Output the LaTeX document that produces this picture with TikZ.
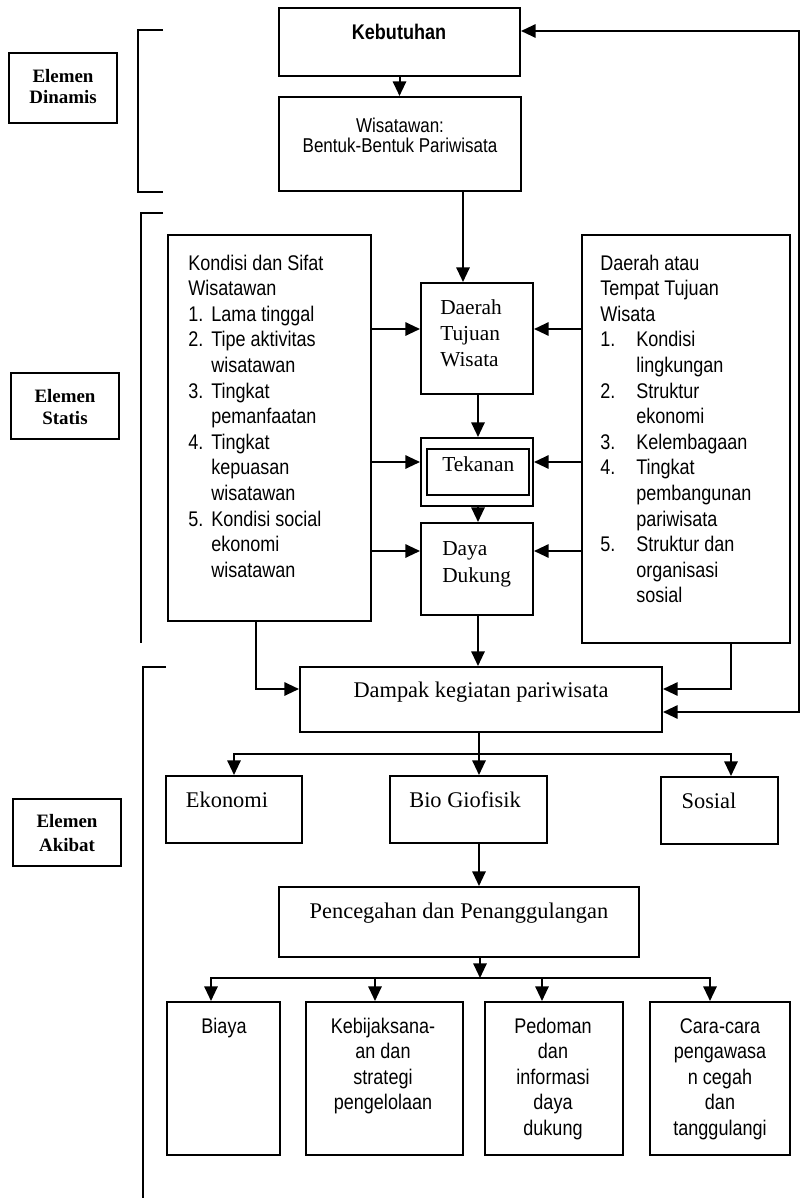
\documentclass[tikz,border=0pt]{standalone}
\usepackage{fontspec}
\setmainfont{Liberation Serif}
\newfontfamily\narrowsans[FakeStretch=0.85]{Liberation Sans}
\usetikzlibrary{arrows.meta}
% fixed-width slots for list numbers in the two side panels
\newcommand\nbl[1]{\makebox[17.25pt][l]{#1}}
\newcommand\nbr[1]{\makebox[27pt][l]{#1}}
% \mkbox{name}{x1}{y1}{x2}{y2}: an empty framed box between two corners (px)
\newcommand\mkbox[5]{\node[panel, minimum width={(#4-#2)*0.75pt}, minimum height={(#5-#3)*0.75pt}] (#1) at ({(#2+#4)/2},{(#3+#5)/2}) {};}

\begin{document}
\begin{tikzpicture}[x=0.75pt,y=-0.75pt,
  panel/.style={draw, line width=1.5pt, inner sep=0pt},
  conn/.style={line width=1.5pt},
  arr/.style={conn, -{Triangle[length=11pt,width=10pt]}},
  sanstext/.style={font=\narrowsans\fontsize{15.9pt}{19.2pt}\selectfont, inner sep=0pt},
  headtext/.style={font=\narrowsans\bfseries\fontsize{15.9pt}{18pt}\selectfont, inner sep=0pt},
  wstext/.style={font=\narrowsans\fontsize{15pt}{15pt}\selectfont, inner sep=0pt},
  seriftext/.style={font=\fontsize{16.8pt}{19pt}\selectfont, inner sep=0pt},
  smallserif/.style={font=\fontsize{16pt}{19pt}\selectfont, inner sep=0pt},
  elemtext/.style={font=\bfseries\fontsize{14.2pt}{17pt}\selectfont, inner sep=0pt},
]
\fill[white] (0,0) rectangle (802,1198);
\useasboundingbox (0,0) rectangle (802,1198);

% ---------- element labels and brackets ----------
\mkbox{ed}{9}{53}{117}{123}
\node[elemtext, anchor=base] (ed1) at (63,83) {Elemen};
\node[elemtext, anchor=base] (ed2) at (63,104) {Dinamis};
\mkbox{es}{11}{373}{119}{439}
\node[elemtext, anchor=base] (es1) at (65,402) {Elemen};
\node[elemtext, anchor=base] (es2) at (65,424) {Statis};
\mkbox{ea}{13}{799}{121}{866}
\node[elemtext, anchor=base] (ea1) at (67,827) {Elemen};
\node[elemtext, anchor=base] (ea2) at (67,851) {Akibat};

\draw[conn] (163,30) -- (138,30) -- (138,192) -- (163,192);
\draw[conn] (163,213) -- (141,213) -- (141,643);
\draw[conn] (166,667) -- (143,667) -- (143,1198);

% ---------- dynamic element ----------
\mkbox{kb}{279}{8}{520}{76}
\node[headtext, anchor=base] (kbt) at (399,40) {Kebutuhan};
\mkbox{ws}{279}{97}{521}{191}
\node[wstext, anchor=base] (ws1) at (400,133) {Wisatawan:};
\node[wstext, anchor=base] (ws2) at (400,153) {Bentuk-Bentuk Pariwisata};

% ---------- static element ----------
\mkbox{lb}{168}{235}{371}{621}
\foreach \lab [count=\i from 0] in {
  {Kondisi dan Sifat},
  {Wisatawan},
  {\nbl{1.}Lama tinggal},
  {\nbl{2.}Tipe aktivitas},
  {\nbl{}wisatawan},
  {\nbl{3.}Tingkat},
  {\nbl{}pemanfaatan},
  {\nbl{4.}Tingkat},
  {\nbl{}kepuasan},
  {\nbl{}wisatawan},
  {\nbl{5.}Kondisi social},
  {\nbl{}ekonomi},
  {\nbl{}wisatawan}}
  \node[sanstext, anchor=base west] (lt\i) at (188,270+25.6*\i) {\lab};

\mkbox{rb}{582}{235}{790}{643}
\foreach \lab [count=\i from 0] in {
  {Daerah atau},
  {Tempat Tujuan},
  {Wisata},
  {\nbr{1.}Kondisi},
  {\nbr{}lingkungan},
  {\nbr{2.}Struktur},
  {\nbr{}ekonomi},
  {\nbr{3.}Kelembagaan},
  {\nbr{4.}Tingkat},
  {\nbr{}pembangunan},
  {\nbr{}pariwisata},
  {\nbr{5.}Struktur dan},
  {\nbr{}organisasi},
  {\nbr{}sosial}}
  \node[sanstext, anchor=base west] (rt\i) at (600,270+25.6*\i) {\lab};

\mkbox{dtw}{421}{283}{533}{394}
\node[smallserif, anchor=base west] (dtw1) at (440,314) {Daerah};
\node[smallserif, anchor=base west] (dtw2) at (440,340) {Tujuan};
\node[smallserif, anchor=base west] (dtw3) at (440,366) {Wisata};

\mkbox{tk}{421}{438}{533}{506}
\mkbox{tki}{427}{449}{529}{495}
\node[smallserif, anchor=base west] (tkt) at (442,471) {Tekanan};

\mkbox{dd}{421}{523}{533}{615}
\node[smallserif, anchor=base west] (dd1) at (442,555) {Daya};
\node[smallserif, anchor=base west] (dd2) at (442,582) {Dukung};

% ---------- consequence element ----------
\mkbox{dk}{300}{667}{662}{732}
\node[seriftext, anchor=base] (dkt) at (481,697) {Dampak kegiatan pariwisata};
\mkbox{eko}{166}{776}{302}{843}
\node[seriftext, anchor=base] (ekot) at (227,807) {Ekonomi};
\mkbox{bio}{390}{776}{547}{843}
\node[seriftext, anchor=base] (biot) at (465,807) {Bio Giofisik};
\mkbox{sos}{661}{777}{778}{844}
\node[seriftext, anchor=base] (sost) at (709,808) {Sosial};
\mkbox{pp}{279}{887}{639}{957}
\node[seriftext, anchor=base] (ppt) at (459,918) {Pencegahan dan Penanggulangan};

\mkbox{by}{167}{1002}{280}{1155}
\node[sanstext, anchor=base] (byt) at (224,1033) {Biaya};
\mkbox{kj}{306}{1002}{463}{1155}
\foreach \lab [count=\i from 0] in {Kebijaksana-, an dan, strategi, pengelolaan}
  \node[sanstext, anchor=base] (kjt\i) at (383,1033+25.5*\i) {\lab};
\mkbox{pd}{485}{1002}{623}{1155}
\foreach \lab [count=\i from 0] in {Pedoman, dan, informasi, daya, dukung}
  \node[sanstext, anchor=base] (pdt\i) at (553,1033+25.5*\i) {\lab};
\mkbox{cc}{650}{1002}{790}{1155}
\foreach \lab [count=\i from 0] in {Cara-cara, pengawasa, n cegah, dan, tanggulangi}
  \node[sanstext, anchor=base] (cct\i) at (720,1033+25.5*\i) {\lab};

% ---------- connectors ----------
\coordinate (dtin) at (463,0);
\coordinate (spine) at (478,0);
\coordinate (rowA) at (0,329);
\coordinate (rowB) at (0,462);
\coordinate (rowC) at (0,551);
\coordinate (lfoot) at (256,689);
\coordinate (rfoot) at (731,689);
\coordinate (fbtop) at (799,31);
\coordinate (fbbot) at (799,712);
\coordinate (hubA) at (479,754);
\coordinate (sosin) at (731,0);
\coordinate (hubB) at (480,978);
\coordinate (byin) at (211,0);
\coordinate (kjin) at (375,0);
\coordinate (pdin) at (542,0);
\coordinate (ccin) at (710,0);

\draw[arr] (kb.south) -- (kb.south |- ws.north);
\draw[arr] (dtin |- ws.south) -- (dtin |- dtw.north);

\draw[arr] (lb.east |- rowA) -- (dtw.west |- rowA);
\draw[arr] (rb.west |- rowA) -- (dtw.east |- rowA);
\draw[arr] (lb.east |- rowB) -- (tk.west |- rowB);
\draw[arr] (rb.west |- rowB) -- (tk.east |- rowB);
\draw[arr] (lb.east |- rowC) -- (dd.west |- rowC);
\draw[arr] (rb.west |- rowC) -- (dd.east |- rowC);

\draw[arr] (spine |- dtw.south) -- (spine |- tk.north);
\draw[arr] (spine |- tk.south) -- (spine |- dd.north);
\draw[arr] (spine |- dd.south) -- (spine |- dk.north);

\draw[arr] (lfoot |- lb.south) |- (dk.west |- lfoot);
\draw[arr] (rfoot |- rb.south) |- (dk.east |- rfoot);
\draw[conn, {Triangle[length=11pt,width=10pt]}-{Triangle[length=11pt,width=10pt]}]
  (kb.east |- fbtop) -- (fbtop) -- (fbbot) -- (dk.east |- fbbot);

\draw[arr] (hubA |- dk.south) -- (hubA |- bio.north);
\draw[arr] (hubA) -| (eko.north);
\draw[arr] (hubA) -| (sosin |- sos.north);
\draw[arr] (hubA |- bio.south) -- (hubA |- pp.north);

\draw[arr] (hubB |- pp.south) -- (hubB);
\draw[arr] (hubB) -| (byin |- by.north);
\draw[arr] (hubB) -| (ccin |- cc.north);
\draw[arr] (kjin |- hubB) -- (kjin |- kj.north);
\draw[arr] (pdin |- hubB) -- (pdin |- pd.north);
\end{tikzpicture}
\end{document}
